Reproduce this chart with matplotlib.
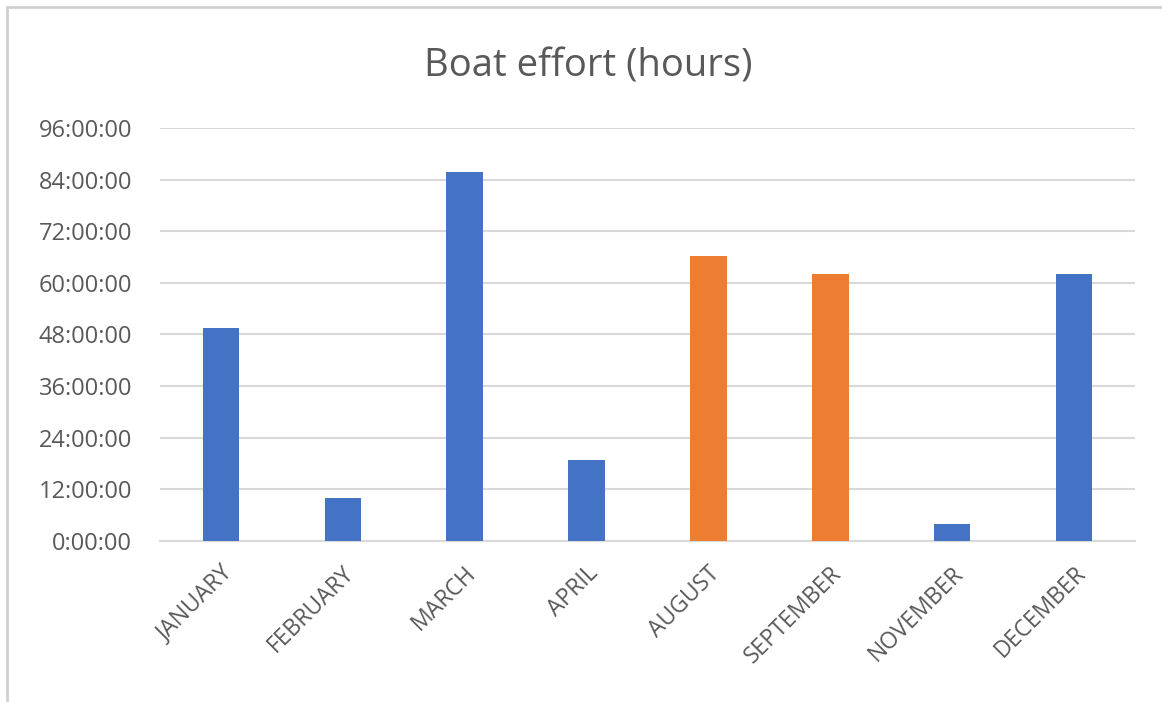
import matplotlib
import matplotlib.pyplot as plt
import matplotlib.ticker as ticker
from matplotlib.patches import Rectangle
from matplotlib.transforms import ScaledTranslation

matplotlib.rcParams['font.family'] = ['Open Sans', 'DejaVu Sans']

months = ['JANUARY', 'FEBRUARY', 'MARCH', 'APRIL', 'AUGUST', 'SEPTEMBER', 'NOVEMBER', 'DECEMBER']
hours = [49.4, 10.0, 85.8, 18.7, 66.3, 62.0, 3.9, 62.0]
highlight = [False, False, False, False, True, True, False, False]

blue = '#4472C4'
orange = '#ED7D31'
text_color = '#595959'
grid_color = '#D9D9D9'

fig = plt.figure(figsize=(11.62, 7.02), dpi=100)
ax = fig.add_axes([160 / 1162, 1 - 540.7 / 702, 975 / 1162, 412.5 / 702])

# outer chart frame
fig.patches.append(Rectangle((7 / 1162, -0.01), 1.2, 1 - 7 / 702 + 0.01,
                             transform=fig.transFigure, fill=False,
                             edgecolor='#D0D0D0', linewidth=2))

colors = [orange if h else blue for h in highlight]
x = range(len(months))
ax.bar(x, hours, width=0.3, color=colors, zorder=3)

ax.set_xlim(-0.5, len(months) - 0.5)
ax.set_ylim(0, 96)
ax.set_yticks(range(0, 97, 12))
ax.yaxis.set_major_formatter(ticker.FuncFormatter(lambda v, pos: '%d:00:00' % int(v)))
ax.grid(axis='y', color=grid_color, linewidth=1.5, zorder=0)
ax.set_axisbelow(True)

for side in ['top', 'right', 'left']:
    ax.spines[side].set_visible(False)
ax.spines['bottom'].set_color(grid_color)
ax.spines['bottom'].set_linewidth(1.5)

ax.tick_params(axis='both', length=0, colors=text_color)
ax.tick_params(axis='y', labelsize=17, pad=20)
ax.set_xticks(list(x))
ax.set_xticklabels(months, rotation=45, ha='right', va='center', rotation_mode='anchor')
ax.tick_params(axis='x', labelsize=16.5, pad=21)

# nudge the slanted month labels a little to the right
shift = ScaledTranslation(8 / 100, 0, fig.dpi_scale_trans)
for lbl in ax.get_xticklabels():
    lbl.set_transform(lbl.get_transform() + shift)

fig.text(588 / 1162, 1 - 66 / 702, 'Boat effort (hours)', ha='center', va='center',
         fontsize=27.5, color=text_color)

plt.savefig('out.png', dpi=100, facecolor='white')
